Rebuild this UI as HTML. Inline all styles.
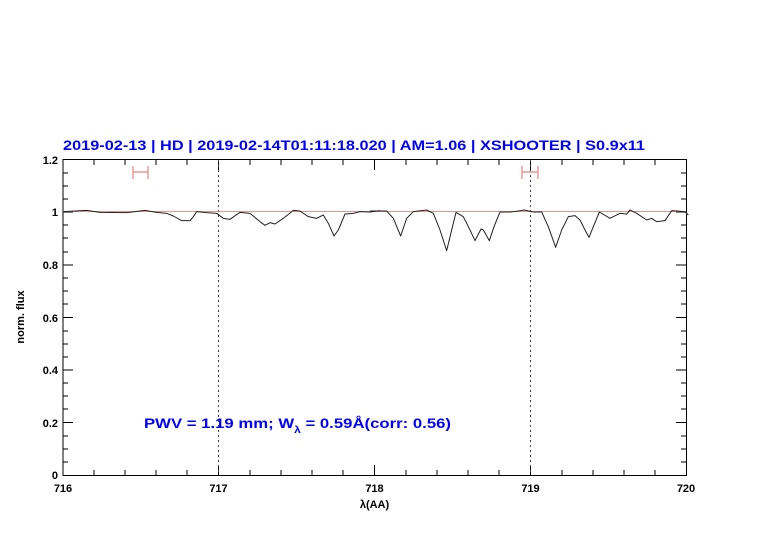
<!DOCTYPE html>
<html><head><meta charset="utf-8"><style>
html,body{margin:0;padding:0;background:#fff;}
svg{display:block;font-family:"Liberation Sans",sans-serif;}
</style></head><body>
<svg width="782" height="542" viewBox="0 0 782 542" xmlns="http://www.w3.org/2000/svg">
<rect width="782" height="542" fill="#fff"/>
<text x="63" y="150" fill="#0000ff" font-size="14" font-weight="bold" textLength="582" lengthAdjust="spacingAndGlyphs">2019-02-13 | HD | 2019-02-14T01:11:18.020 | AM=1.06 | XSHOOTER | S0.9x11</text>
<g stroke="#000" stroke-width="1" fill="none">
<rect x="63" y="159.5" width="623.5" height="316"/>
<path d="
M94,475v-5M125,475v-5M156,475v-5M187,475v-5M218.5,475v-10M250,475v-5M281,475v-5M312,475v-5M343,475v-5M374.5,475v-10M406,475v-5M437,475v-5M468,475v-5M499,475v-5M530.5,475v-10M562,475v-5M593,475v-5M624,475v-5M655,475v-5
M94,160v5M125,160v5M156,160v5M187,160v5M218.5,160v10M250,160v5M281,160v5M312,160v5M343,160v5M374.5,160v10M406,160v5M437,160v5M468,160v5M499,160v5M530.5,160v10M562,160v5M593,160v5M624,160v5M655,160v5"/>
<path d="
M63,462h5M63,449h5M63,436h5M63,422.5h10M63,409h5M63,396h5M63,383h5M63,370h10M63,357h5M63,344h5M63,331h5M63,317.5h10M63,304h5M63,291h5M63,278h5M63,265h10M63,252h5M63,238h5M63,225h5M63,212h10M63,199h5M63,186h5M63,173h5
M686,462h-5M686,449h-5M686,436h-5M686,422.5h-10M686,409h-5M686,396h-5M686,383h-5M686,370h-10M686,357h-5M686,344h-5M686,331h-5M686,317.5h-10M686,304h-5M686,291h-5M686,278h-5M686,265h-10M686,252h-5M686,238h-5M686,225h-5M686,212h-10M686,199h-5M686,186h-5M686,173h-5"/>
</g>
<g stroke="#444" stroke-width="1" stroke-dasharray="2,3">
<line x1="218.5" y1="160" x2="218.5" y2="475"/>
<line x1="530.5" y1="160" x2="530.5" y2="475"/>
</g>
<line x1="63" y1="211.5" x2="686" y2="211.5" stroke="#e07070" stroke-width="0.8"/>
<g stroke="#f08080" stroke-width="1.2">
<path d="M133,166v13M148,166v13M133,172h15"/>
<path d="M522,166v13M538,166v13M522,172h16"/>
</g>
<g transform="translate(60,150) scale(0.33333)" fill="none" stroke="#222" stroke-width="1" stroke-linejoin="round">
<polyline vector-effect="non-scaling-stroke" points="10,185 80,181 120,187 200,188 255,181 290,187 320,190 340,198 365,212 390,212 400,200 410,185 440,188 470,190 490,205 510,208 540,187 570,190 600,215 615,226 630,218 645,222 670,205 700,181 720,183 745,200 770,205 790,195 805,220 822,258 835,240 855,192 880,190 900,185 930,186 960,182"/>
</g>
<g transform="translate(370,150) scale(0.33333)" fill="none" stroke="#222" stroke-width="1" stroke-linejoin="round">
<polyline vector-effect="non-scaling-stroke" points="0,183 50,183 70,205 92,258 110,205 130,185 170,180 190,190 210,240 230,302 245,240 258,187 280,200 300,240 315,272 333,237 340,240 358,272 372,230 390,186 420,186 445,183 462,180 490,186 515,186 535,230 557,292 575,240 595,200 615,197 630,210 645,240 657,262 670,230 688,186 720,205 750,190 770,192 780,180 800,190 830,210 845,205 860,215 885,212 905,182 945,185 955,195"/>
</g>
<g font-size="11" font-weight="bold" fill="#000" text-anchor="end">
<text x="58" y="164">1.2</text>
<text x="58" y="216">1</text>
<text x="58" y="269">0.8</text>
<text x="58" y="322">0.6</text>
<text x="58" y="374">0.4</text>
<text x="58" y="427">0.2</text>
<text x="58" y="479">0</text>
</g>
<g font-size="11" font-weight="bold" fill="#000" text-anchor="middle">
<text x="63" y="492">716</text>
<text x="218.5" y="492">717</text>
<text x="374.5" y="492">718</text>
<text x="530.5" y="492">719</text>
<text x="686" y="492">720</text>
<text x="374.5" y="508">λ(AA)</text>
</g>
<text transform="translate(24,317) rotate(-90)" font-size="11" font-weight="bold" text-anchor="middle">norm. flux</text>
<text x="144" y="428" fill="#0000ff" font-size="14" font-weight="bold" textLength="307" lengthAdjust="spacingAndGlyphs">PWV = 1.19 mm; W<tspan font-size="10" dy="5">λ</tspan><tspan dy="-5"> = 0.59Å(corr: 0.56)</tspan></text>
</svg>
</body></html>
